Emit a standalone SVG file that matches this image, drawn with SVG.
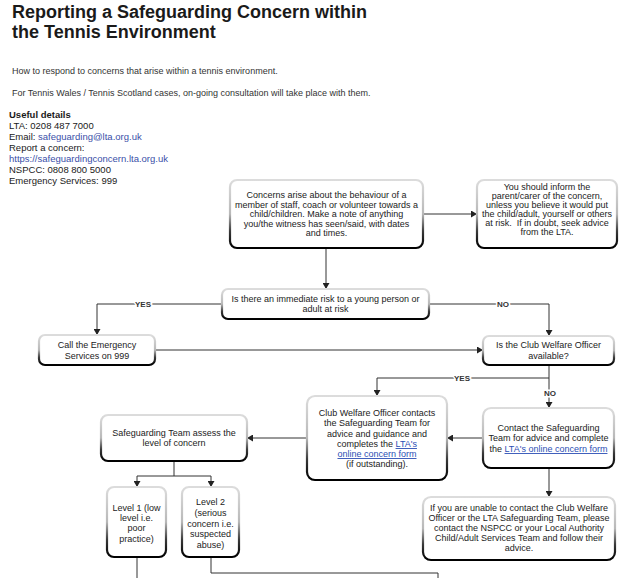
<svg xmlns="http://www.w3.org/2000/svg" width="624" height="578" viewBox="0 0 624 578">
<style>
  .title{font-family:"Liberation Sans",Arial,sans-serif;font-size:18px;font-weight:bold;fill:#1a1a1a}
  .intro{font-family:"Liberation Sans",Arial,sans-serif;font-size:9px;fill:#333}
  .det{font-family:"Liberation Sans",Arial,sans-serif;font-size:9.5px;fill:#1a1a1a}
  .link{fill:#3a4fa8}
  .bt{font-family:"Liberation Sans",Arial,sans-serif;font-size:9px;fill:#222;text-anchor:middle}
  .ul{fill:#2c4fb5;text-decoration:underline}
  .box{fill:#fff;stroke:url(#edge);stroke-width:2.2}
  .con{fill:none;stroke:#333;stroke-width:1}
  .arr{marker-end:url(#ah)}
  .lbl{font-family:"Liberation Sans",Arial,sans-serif;font-size:8px;font-weight:bold;fill:#333;text-anchor:middle;stroke:#fff;stroke-width:3;paint-order:stroke}
</style>
<defs>
  <linearGradient id="edge" x1="0" y1="0" x2="0" y2="1">
    <stop offset="0" stop-color="#dcdcdc"/>
    <stop offset="0.5" stop-color="#b8b8b8"/>
    <stop offset="0.75" stop-color="#3a3a3a"/>
    <stop offset="1" stop-color="#000"/>
  </linearGradient>
  <marker id="ah" markerUnits="userSpaceOnUse" markerWidth="7" markerHeight="7" refX="6" refY="3.5" orient="auto">
    <path d="M0,0 L6,3.5 L0,7 z" fill="#222"/>
  </marker>
</defs>

<g id="header">
  <text class="title" x="12" y="18">Reporting a Safeguarding Concern within</text>
  <text class="title" x="12" y="38">the Tennis Environment</text>
  <text class="intro" x="12" y="74">How to respond to concerns that arise within a tennis environment.</text>
  <text class="intro" x="12" y="96">For Tennis Wales / Tennis Scotland cases, on-going consultation will take place with them.</text>
  <text class="det" x="9" y="118" font-weight="bold">Useful details</text>
  <text class="det" x="9" y="129">LTA: 0208 487 7000</text>
  <text class="det" x="9" y="140">Email: <tspan class="link">safeguarding@lta.org.uk</tspan></text>
  <text class="det" x="9" y="151">Report a concern:</text>
  <text class="det link" x="9" y="162">https://safeguardingconcern.lta.org.uk</text>
  <text class="det" x="9" y="173">NSPCC: 0808 800 5000</text>
  <text class="det" x="9" y="184">Emergency Services: 999</text>
</g>

<g id="connectors">
  <path class="con arr" d="M423,214 H477"/>
  <path class="con arr" d="M326,248 V289"/>
  <path class="con arr" d="M222,304 H97 V335"/>
  <path class="con arr" d="M429,304 H549 V336"/>
  <path class="con arr" d="M155,350 H483"/>
  <path class="con arr" d="M549,365 V378 H377 V396"/>
  <path class="con arr" d="M549,378 V408"/>
  <path class="con arr" d="M483,438 H447"/>
  <path class="con arr" d="M307,438 H247"/>
  <path class="con" d="M174,461 V476 M137,476 H211"/>
  <path class="con arr" d="M137,476 V487"/>
  <path class="con arr" d="M211,476 V487"/>
  <path class="con arr" d="M549,468 V497"/>
  <path class="con" d="M137,557 V578"/>
  <path class="con" d="M211,557 V573 H438 V578"/>
  <text class="lbl" x="143" y="307">YES</text>
  <text class="lbl" x="503" y="307">NO</text>
  <text class="lbl" x="462" y="381">YES</text>
  <text class="lbl" x="550" y="396">NO</text>
</g>

<g id="n-concerns">
  <rect class="box" x="230" y="180" width="193" height="68" rx="7"/>
  <text class="bt" x="326.5" y="198">Concerns arise about the behaviour of a</text>
  <text class="bt" x="326.5" y="207.5">member of staff, coach or volunteer towards a</text>
  <text class="bt" x="326.5" y="217">child/children. Make a note of anything</text>
  <text class="bt" x="326.5" y="226.5">you/the witness has seen/said, with dates</text>
  <text class="bt" x="326.5" y="236">and times.</text>
</g>

<g id="n-inform">
  <rect class="box" x="477" y="180" width="140" height="68" rx="7"/>
  <text class="bt" x="547" y="190">You should inform the</text>
  <text class="bt" x="547" y="199">parent/carer of the concern,</text>
  <text class="bt" x="547" y="207.5">unless you believe it would put</text>
  <text class="bt" x="547" y="216.5">the child/adult, yourself or others</text>
  <text class="bt" x="547" y="225.5" xml:space="preserve">at risk.  If in doubt, seek advice</text>
  <text class="bt" x="547" y="234.5">from the LTA.</text>
</g>

<g id="n-risk">
  <rect class="box" x="222" y="289" width="207" height="30" rx="6"/>
  <text class="bt" x="325.5" y="302">Is there an immediate risk to a young person or</text>
  <text class="bt" x="325.5" y="312">adult at risk</text>
</g>

<g id="n-emergency">
  <rect class="box" x="39" y="335" width="116" height="30" rx="6"/>
  <text class="bt" x="97" y="348">Call the Emergency</text>
  <text class="bt" x="97" y="359">Services on 999</text>
</g>

<g id="n-cwo-available">
  <rect class="box" x="483" y="336" width="131" height="29" rx="6"/>
  <text class="bt" x="548.5" y="348">Is the Club Welfare Officer</text>
  <text class="bt" x="548.5" y="359">available?</text>
</g>

<g id="n-cwo-contacts">
  <rect class="box" x="307" y="396" width="140" height="84" rx="8"/>
  <text class="bt" x="377" y="416">Club Welfare Officer contacts</text>
  <text class="bt" x="377" y="426">the Safeguarding Team for</text>
  <text class="bt" x="377" y="436.5">advice and guidance and</text>
  <text class="bt" x="377" y="447">completes the <tspan class="ul">LTA's</tspan></text>
  <text class="bt ul" x="377" y="457">online concern form</text>
  <text class="bt" x="377" y="467">(if outstanding).</text>
</g>

<g id="n-contact-team">
  <rect class="box" x="483" y="408" width="131" height="60" rx="8"/>
  <text class="bt" x="548.5" y="431">Contact the Safeguarding</text>
  <text class="bt" x="548.5" y="441">Team for advice and complete</text>
  <text class="bt" x="548.5" y="452">the <tspan class="ul">LTA's online concern form</tspan></text>
</g>

<g id="n-assess">
  <rect class="box" x="101" y="415" width="146" height="46" rx="7"/>
  <text class="bt" x="174" y="436">Safeguarding Team assess the</text>
  <text class="bt" x="174" y="446">level of concern</text>
</g>

<g id="n-level1">
  <rect class="box" x="107" y="487" width="59" height="70" rx="7"/>
  <text class="bt" x="136.5" y="511">Level 1 (low</text>
  <text class="bt" x="136.5" y="520.5">level i.e.</text>
  <text class="bt" x="136.5" y="531">poor</text>
  <text class="bt" x="136.5" y="542">practice)</text>
</g>

<g id="n-level2">
  <rect class="box" x="182" y="487" width="57" height="70" rx="7"/>
  <text class="bt" x="210.5" y="505">Level 2</text>
  <text class="bt" x="210.5" y="516">(serious</text>
  <text class="bt" x="210.5" y="527">concern i.e.</text>
  <text class="bt" x="210.5" y="537">suspected</text>
  <text class="bt" x="210.5" y="547.5">abuse)</text>
</g>

<g id="n-unable">
  <rect class="box" x="423" y="497" width="192" height="63" rx="8"/>
  <text class="bt" x="519" y="511">If you are unable to contact the Club Welfare</text>
  <text class="bt" x="519" y="521">Officer or the LTA Safeguarding Team, please</text>
  <text class="bt" x="519" y="531">contact the NSPCC or your Local Authority</text>
  <text class="bt" x="519" y="540.5">Child/Adult Services Team and follow their</text>
  <text class="bt" x="519" y="551">advice.</text>
</g>
</svg>
